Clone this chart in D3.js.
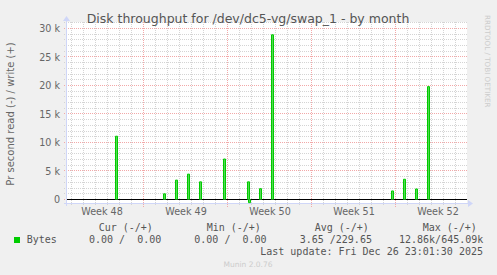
<!DOCTYPE html>
<html><head><meta charset="utf-8">
<script src="https://cdn.jsdelivr.net/npm/d3@7"></script>
<style>body{margin:0;background:#f0f0f0} svg{display:block} text{white-space:pre}</style>
</head><body><svg id="c" width="497" height="275"></svg>
<script>
const titleText = "Disk throughput for /dev/dc5-vg/swap_1 - by month";
const yAxisTitle = "Pr second read (-) / write (+)";
const endTime = "2025-12-26T23:01:30Z";
const writeDates = ["2025-11-27T17:00:00Z","2025-12-01T17:00:00Z","2025-12-02T17:00:00Z","2025-12-03T17:00:00Z","2025-12-04T17:00:00Z","2025-12-06T17:00:00Z","2025-12-08T17:00:00Z","2025-12-09T17:00:00Z","2025-12-10T17:00:00Z","2025-12-20T17:00:00Z","2025-12-21T17:00:00Z","2025-12-22T17:00:00Z","2025-12-23T17:00:00Z"];
const writeValues = [11100,1000,3400,4450,3100,7100,3100,1900,28900,1500,3550,1850,19800];
const readDates = ["2025-12-08T18:00:00Z"];
const readValues = [550];
const yTickValues = [0,5000,10000,15000,20000,25000,30000];
const yTickLabels = ["0","5 k","10 k","15 k","20 k","25 k","30 k"];
const weekLabels = ["Week 48","Week 49","Week 50","Week 51","Week 52"];
const legendHeaders = ["Cur (-/+)","Min (-/+)","Avg (-/+)","Max (-/+)"];
const legendValues = ["0.00 /  0.00","0.00 /  0.00","3.65 /229.65","12.86k/645.09k"];
const seriesName = "Bytes";
const lastUpdate = "Last update: Fri Dec 26 23:01:30 2025";
const footer = "Munin 2.0.76";
const sideText = "RRDTOOL / TOBI OETIKER";

const svg = d3.select("#c");
const L = 67, R = 467, T = 22, B = 203;
const end = new Date(endTime);
const start = d3.utcHour.offset(end, -800);
const x = d3.scaleUtc().domain([start, end]).range([L, R]);
const y = d3.scaleLinear().domain([-614, 31140]).range([B, T]);
const px = v => Math.floor(v) + 0.5;

svg.append("rect").attr("width",497).attr("height",275).attr("fill","#f0f0f0");
svg.append("rect").attr("x",L).attr("y",T).attr("width",R-L).attr("height",B-T).attr("fill","#fff");

const minorC = "#d4d4d4", majorC = "#f2a8a8";
const yMinor = d3.range(0, 31001, 1000).filter(v => v % 5000 !== 0);
svg.append("g").selectAll("line").data(yMinor).join("line")
  .attr("x1",L-3).attr("x2",R).attr("y1",d=>px(y(d))).attr("y2",d=>px(y(d)))
  .attr("stroke",minorC).attr("stroke-dasharray","1,1");
const days = d3.utcDay.range(start, end).filter(d => d.getUTCDay() !== 0);
svg.append("g").selectAll("line").data(days).join("line")
  .attr("x1",d=>px(x(d))).attr("x2",d=>px(x(d))).attr("y1",T).attr("y2",B+3)
  .attr("stroke",minorC).attr("stroke-dasharray","1,1");
const weeks = d3.utcSunday.range(start, end);
svg.append("g").selectAll("line").data(weeks).join("line")
  .attr("x1",d=>px(x(d))).attr("x2",d=>px(x(d))).attr("y1",T).attr("y2",B+4)
  .attr("stroke",majorC).attr("stroke-dasharray","1,1");
svg.append("g").selectAll("line").data(yTickValues).join("line")
  .attr("x1",L-3).attr("x2",R).attr("y1",d=>px(y(d))).attr("y2",d=>px(y(d)))
  .attr("stroke",majorC).attr("stroke-dasharray","1,1");

const axisC = "#CFD6F8";
svg.append("line").attr("x1",L-3).attr("x2",R+2).attr("y1",B+0.5).attr("y2",B+0.5).attr("stroke",axisC);
svg.append("line").attr("x1",L-0.5).attr("x2",L-0.5).attr("y1",B+3).attr("y2",T-2).attr("stroke",axisC);
svg.append("path").attr("d",`M${R+1},${B-3}L${R+6},${B+0.5}L${R+1},${B+4}Z`).attr("fill",axisC);
svg.append("path").attr("d",`M${L-4},${T-1}L${L-0.5},${T-6}L${L+3},${T-1}Z`).attr("fill",axisC);

const fontC = "#666";
const ya = d3.axisLeft(y).tickValues(yTickValues).tickFormat((d,i)=>yTickLabels[i]).tickSize(0).tickPadding(0);
const yg = svg.append("g").attr("transform",`translate(${L-7},0)`).call(ya);
yg.select(".domain").remove();
yg.selectAll("text").attr("fill",fontC).attr("font-family","DejaVu Sans").attr("font-size","9.6px");

const labelDates = d3.utcWednesday.range(start, end).map(d => d3.utcHour.offset(d, 12));
const xa = d3.axisBottom(x).tickValues(labelDates).tickFormat((d,i)=>weekLabels[i]).tickSize(0).tickPadding(0);
const xg = svg.append("g").attr("transform",`translate(0,${B+5})`).call(xa);
xg.select(".domain").remove();
xg.selectAll("text").attr("fill",fontC).attr("font-family","DejaVu Sans").attr("font-size","9.6px").attr("dy","0.71em");

svg.append("line").attr("x1",L).attr("x2",R).attr("y1",px(y(0))).attr("y2",px(y(0))).attr("stroke","#000");

const green = "#00cc00";
const pulse = (dt, v) => {
  const t = new Date(dt);
  return [[t,0],[t,v],[d3.utcHour.offset(t,4),v],[d3.utcHour.offset(t,4),0]];
};
const line = d3.line().x(d=>px(x(d[0]))).y(d=>y(d[1]));
writeDates.forEach((d,i)=>{
  svg.append("path").attr("d",line(pulse(d, writeValues[i]))).attr("fill","#55d855").attr("stroke",green).attr("stroke-width",1);
});
readDates.forEach((d,i)=>{
  svg.append("path").attr("d",line(pulse(d, -readValues[i]))).attr("fill","#55d855").attr("stroke",green).attr("stroke-width",1);
});

svg.append("text").attr("x",248).attr("y",23).attr("text-anchor","middle").attr("fill","#555")
  .attr("font-family","DejaVu Sans").attr("font-size","12.5px").text(titleText);
svg.append("text").attr("transform",`translate(14,114) rotate(-90)`).attr("text-anchor","middle").attr("fill",fontC)
  .attr("font-family","DejaVu Sans").attr("font-size","10px").text(yAxisTitle);
svg.append("text").attr("transform",`translate(485,15) rotate(90)`).attr("text-anchor","start").attr("fill","#ccc")
  .attr("font-family","DejaVu Sans").attr("font-size","7.2px").text(sideText);

const mono = "DejaVu Sans Mono";
const hx = [98.7, 206.7, 314.7, 422.7];
legendHeaders.forEach((h,i)=>svg.append("text").attr("x",hx[i]).attr("y",231).attr("fill","#555")
  .attr("font-family",mono).attr("font-size","10px").text(h));
svg.append("rect").attr("x",14).attr("y",237).attr("width",6).attr("height",6).attr("fill",green);
svg.append("text").attr("x",26.7).attr("y",243).attr("fill","#555").attr("font-family",mono).attr("font-size","10px").text(seriesName);
const vx = [89, 194.3, 299.7, 399];
legendValues.forEach((v,i)=>svg.append("text").attr("x",vx[i]).attr("y",243).attr("fill","#555")
  .attr("font-family",mono).attr("font-size","10px").text(v));
svg.append("text").attr("x",483).attr("y",255).attr("text-anchor","end").attr("fill","#555")
  .attr("font-family",mono).attr("font-size","10px").text(lastUpdate);
svg.append("text").attr("x",248).attr("y",267).attr("text-anchor","middle").attr("fill","#ccc")
  .attr("font-family","DejaVu Sans").attr("font-size","7.5px").text(footer);
</script></body></html>
